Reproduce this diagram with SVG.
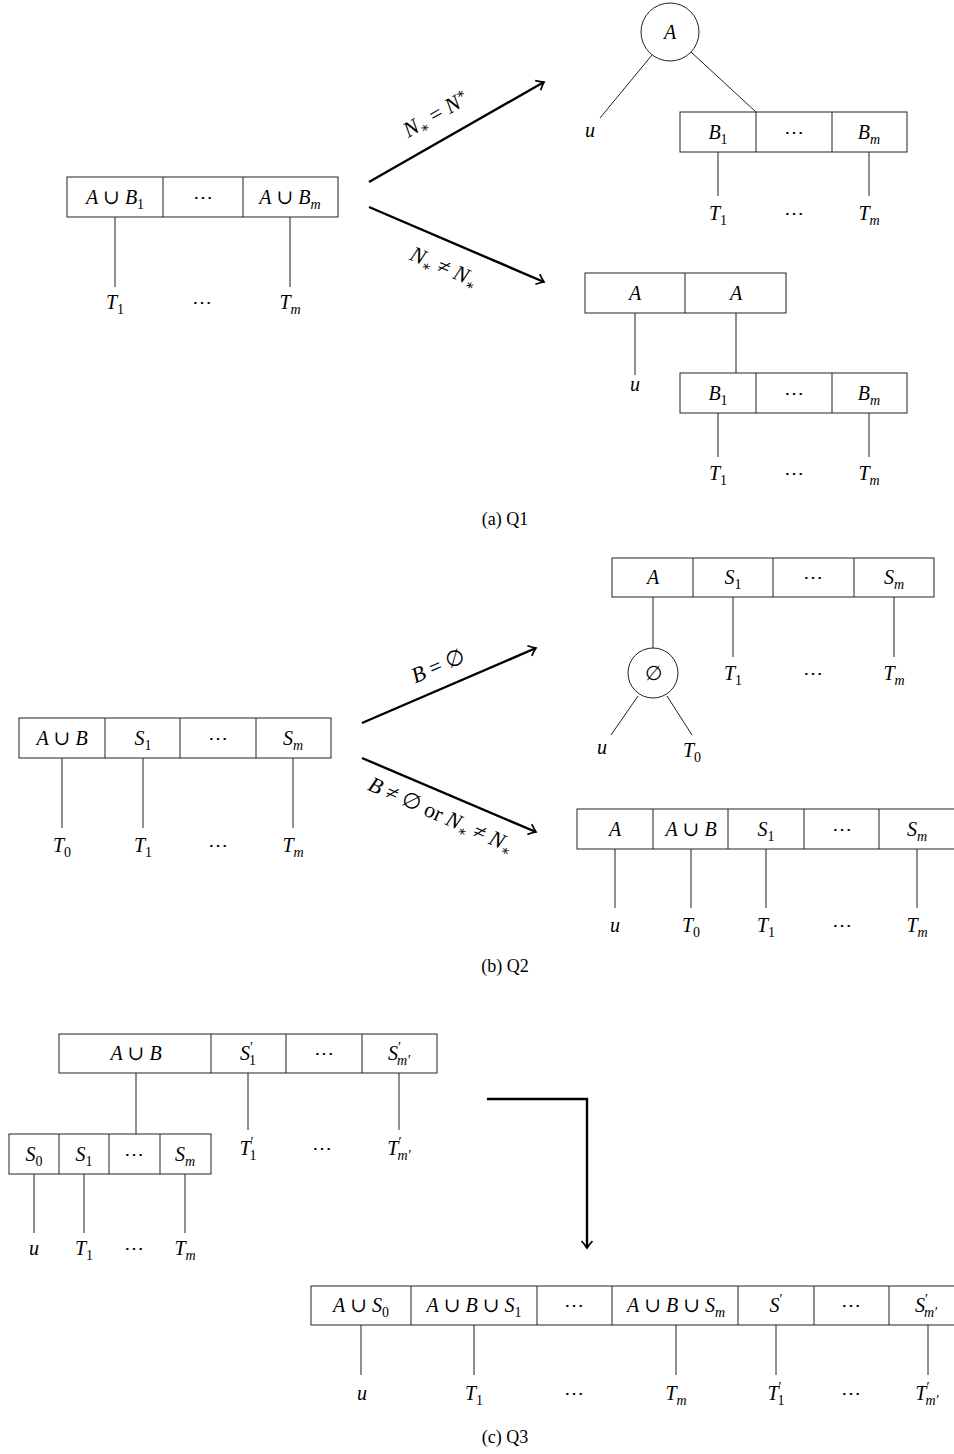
<svg xmlns="http://www.w3.org/2000/svg" width="954" height="1454" viewBox="0 0 954 1454">
<style>
text{font-family:"Liberation Serif","DejaVu Serif",serif;font-size:20px;fill:#000;text-anchor:middle}
.m{font-style:italic}
.r{font-style:normal}
.sb{font-size:14px;baseline-shift:-4.5px}
.sbn{font-size:14px;baseline-shift:-4.5px;font-style:normal}
.sp{font-size:14px;baseline-shift:8px;font-style:normal}
.ss{font-size:14px;baseline-shift:-4px;font-style:normal}
.lbl{font-size:22px}
.box{fill:#fff;stroke:#222;stroke-width:1}
.ln{stroke:#222;stroke-width:1;fill:none}
.arw{stroke:#000;stroke-width:2.4;fill:none;marker-end:url(#ar)}
.cap{font-style:normal;font-size:18px}
</style>
<defs>
<marker id="ar" viewBox="-10 -7 12 14" markerWidth="12" markerHeight="14" refX="0" refY="0" orient="auto" markerUnits="userSpaceOnUse">
<path d="M-7,-5.5 Q-2.5,-1.5 0,0 Q-2.5,1.5 -7,5.5" fill="none" stroke="#000" stroke-width="1.7"/>
</marker>
</defs>

<!-- ===== (a) Q1 ===== -->
<g id="a-left">
<rect class="box" x="67" y="177" width="271" height="40"/>
<line class="ln" x1="163" y1="177" x2="163" y2="217"/>
<line class="ln" x1="243" y1="177" x2="243" y2="217"/>
<text class="m" x="115" y="204">A<tspan class="r"> ∪ </tspan>B<tspan class="sbn">1</tspan></text>
<text x="203" y="204">⋯</text>
<text class="m" x="290" y="204">A<tspan class="r"> ∪ </tspan>B<tspan class="sb">m</tspan></text>
<line class="ln" x1="115" y1="217" x2="115" y2="287"/>
<line class="ln" x1="290" y1="217" x2="290" y2="287"/>
<text class="m" x="115" y="309">T<tspan class="sbn">1</tspan></text>
<text x="202" y="309">⋯</text>
<text class="m" x="290" y="309">T<tspan class="sb">m</tspan></text>
</g>

<g id="a-top">
<circle class="box" cx="670" cy="32" r="29"/>
<text class="m" x="670" y="39">A</text>
<text class="m" x="590" y="137">u</text>
<rect class="box" x="680" y="112" width="227" height="40"/>
<line class="ln" x1="756" y1="112" x2="756" y2="152"/>
<line class="ln" x1="832" y1="112" x2="832" y2="152"/>
<text class="m" x="718" y="139">B<tspan class="sbn">1</tspan></text>
<text x="794" y="139">⋯</text>
<text class="m" x="869" y="139">B<tspan class="sb">m</tspan></text>
<text class="m" x="718" y="220">T<tspan class="sbn">1</tspan></text>
<text x="794" y="220">⋯</text>
<text class="m" x="869" y="220">T<tspan class="sb">m</tspan></text>
</g>

<g id="a-bottom">
<rect class="box" x="585" y="273" width="201" height="40"/>
<line class="ln" x1="685" y1="273" x2="685" y2="313"/>
<text class="m" x="635" y="300">A</text>
<text class="m" x="736" y="300">A</text>
<text class="m" x="635" y="391">u</text>
<rect class="box" x="680" y="373" width="227" height="40"/>
<line class="ln" x1="756" y1="373" x2="756" y2="413"/>
<line class="ln" x1="832" y1="373" x2="832" y2="413"/>
<text class="m" x="718" y="400">B<tspan class="sbn">1</tspan></text>
<text x="794" y="400">⋯</text>
<text class="m" x="869" y="400">B<tspan class="sb">m</tspan></text>
<text class="m" x="718" y="480">T<tspan class="sbn">1</tspan></text>
<text x="794" y="480">⋯</text>
<text class="m" x="869" y="480">T<tspan class="sb">m</tspan></text>
</g>

<text class="cap" x="505" y="525">(a) Q1</text>

<!-- ===== (b) Q2 ===== -->
<g id="b-left">
<rect class="box" x="19" y="718" width="312" height="40"/>
<line class="ln" x1="105" y1="718" x2="105" y2="758"/>
<line class="ln" x1="180" y1="718" x2="180" y2="758"/>
<line class="ln" x1="256" y1="718" x2="256" y2="758"/>
<text class="m" x="62" y="745">A<tspan class="r"> ∪ </tspan>B</text>
<text class="m" x="143" y="745">S<tspan class="sbn">1</tspan></text>
<text x="218" y="745">⋯</text>
<text class="m" x="293" y="745">S<tspan class="sb">m</tspan></text>
<text class="m" x="62" y="852">T<tspan class="sbn">0</tspan></text>
<text class="m" x="143" y="852">T<tspan class="sbn">1</tspan></text>
<text x="218" y="852">⋯</text>
<text class="m" x="293" y="852">T<tspan class="sb">m</tspan></text>
</g>

<g id="b-top">
<rect class="box" x="612" y="558" width="322" height="39"/>
<line class="ln" x1="693" y1="558" x2="693" y2="597"/>
<line class="ln" x1="773" y1="558" x2="773" y2="597"/>
<line class="ln" x1="854" y1="558" x2="854" y2="597"/>
<text class="m" x="653" y="584">A</text>
<text class="m" x="733" y="584">S<tspan class="sbn">1</tspan></text>
<text x="813" y="584">⋯</text>
<text class="m" x="894" y="584">S<tspan class="sb">m</tspan></text>
<circle class="box" cx="653" cy="673" r="25"/>
<text x="653" y="680">∅</text>
<text class="m" x="602" y="754">u</text>
<text class="m" x="692" y="757">T<tspan class="sbn">0</tspan></text>
<text class="m" x="733" y="680">T<tspan class="sbn">1</tspan></text>
<text x="813" y="680">⋯</text>
<text class="m" x="894" y="680">T<tspan class="sb">m</tspan></text>
</g>

<g id="b-bottom">
<rect class="box" x="577" y="809" width="380" height="40"/>
<line class="ln" x1="653" y1="809" x2="653" y2="849"/>
<line class="ln" x1="728" y1="809" x2="728" y2="849"/>
<line class="ln" x1="804" y1="809" x2="804" y2="849"/>
<line class="ln" x1="879" y1="809" x2="879" y2="849"/>
<text class="m" x="615" y="836">A</text>
<text class="m" x="691" y="836">A<tspan class="r"> ∪ </tspan>B</text>
<text class="m" x="766" y="836">S<tspan class="sbn">1</tspan></text>
<text x="842" y="836">⋯</text>
<text class="m" x="917" y="836">S<tspan class="sb">m</tspan></text>
<text class="m" x="615" y="932">u</text>
<text class="m" x="691" y="932">T<tspan class="sbn">0</tspan></text>
<text class="m" x="766" y="932">T<tspan class="sbn">1</tspan></text>
<text x="842" y="932">⋯</text>
<text class="m" x="917" y="932">T<tspan class="sb">m</tspan></text>
</g>

<text class="cap" x="505" y="972">(b) Q2</text>

<!-- ===== (c) Q3 ===== -->
<g id="c-top">
<rect class="box" x="59" y="1034" width="378" height="39"/>
<line class="ln" x1="211" y1="1034" x2="211" y2="1073"/>
<line class="ln" x1="286" y1="1034" x2="286" y2="1073"/>
<line class="ln" x1="362" y1="1034" x2="362" y2="1073"/>
<text class="m" x="136" y="1060">A<tspan class="r"> ∪ </tspan>B</text>
<text class="m" x="248" y="1060">S<tspan class="sp">′</tspan><tspan class="sbn" dx="-4">1</tspan></text>
<text x="324" y="1060">⋯</text>
<text class="m" x="399" y="1060">S<tspan class="sp">′</tspan><tspan class="sb" dx="-4">m′</tspan></text>
<text class="m" x="248" y="1155">T<tspan class="sp">′</tspan><tspan class="sbn" dx="-4">1</tspan></text>
<text x="322" y="1155">⋯</text>
<text class="m" x="399" y="1155">T<tspan class="sp">′</tspan><tspan class="sb" dx="-4">m′</tspan></text>
</g>

<g id="c-left">
<rect class="box" x="9" y="1134" width="202" height="40"/>
<line class="ln" x1="59" y1="1134" x2="59" y2="1174"/>
<line class="ln" x1="109" y1="1134" x2="109" y2="1174"/>
<line class="ln" x1="160" y1="1134" x2="160" y2="1174"/>
<text class="m" x="34" y="1161">S<tspan class="sbn">0</tspan></text>
<text class="m" x="84" y="1161">S<tspan class="sbn">1</tspan></text>
<text x="134" y="1161">⋯</text>
<text class="m" x="185" y="1161">S<tspan class="sb">m</tspan></text>
<text class="m" x="34" y="1255">u</text>
<text class="m" x="84" y="1255">T<tspan class="sbn">1</tspan></text>
<text x="134" y="1255">⋯</text>
<text class="m" x="185" y="1255">T<tspan class="sb">m</tspan></text>
</g>

<g id="c-bottom">
<rect class="box" x="311" y="1286" width="655" height="39"/>
<line class="ln" x1="411" y1="1286" x2="411" y2="1325"/>
<line class="ln" x1="537" y1="1286" x2="537" y2="1325"/>
<line class="ln" x1="612" y1="1286" x2="612" y2="1325"/>
<line class="ln" x1="738" y1="1286" x2="738" y2="1325"/>
<line class="ln" x1="814" y1="1286" x2="814" y2="1325"/>
<line class="ln" x1="889" y1="1286" x2="889" y2="1325"/>
<text class="m" x="361" y="1312">A<tspan class="r"> ∪ </tspan>S<tspan class="sbn">0</tspan></text>
<text class="m" x="474" y="1312">A<tspan class="r"> ∪ </tspan>B<tspan class="r"> ∪ </tspan>S<tspan class="sbn">1</tspan></text>
<text x="574" y="1312">⋯</text>
<text class="m" x="676" y="1312">A<tspan class="r"> ∪ </tspan>B<tspan class="r"> ∪ </tspan>S<tspan class="sb">m</tspan></text>
<text class="m" x="776" y="1312">S<tspan class="sp">′</tspan></text>
<text x="851" y="1312">⋯</text>
<text class="m" x="926" y="1312">S<tspan class="sp">′</tspan><tspan class="sb" dx="-4">m′</tspan></text>
<text class="m" x="362" y="1400">u</text>
<text class="m" x="474" y="1400">T<tspan class="sbn">1</tspan></text>
<text x="574" y="1400">⋯</text>
<text class="m" x="676" y="1400">T<tspan class="sb">m</tspan></text>
<text class="m" x="776" y="1400">T<tspan class="sp">′</tspan><tspan class="sbn" dx="-4">1</tspan></text>
<text x="851" y="1400">⋯</text>
<text class="m" x="927" y="1400">T<tspan class="sp">′</tspan><tspan class="sb" dx="-4">m′</tspan></text>
</g>

<text class="cap" x="505" y="1443">(c) Q3</text>

<!-- ===== connectors ===== -->
<g id="connectors">
<line class="ln" x1="652" y1="55" x2="600" y2="118"/>
<line class="ln" x1="691" y1="52" x2="756" y2="112"/>
<line class="ln" x1="718" y1="152" x2="718" y2="196"/>
<line class="ln" x1="869" y1="152" x2="869" y2="196"/>
<line class="ln" x1="635" y1="313" x2="635" y2="375"/>
<line class="ln" x1="736" y1="313" x2="736" y2="373"/>
<line class="ln" x1="718" y1="413" x2="718" y2="457"/>
<line class="ln" x1="869" y1="413" x2="869" y2="457"/>
<path class="arw" d="M369,182 L544,82"/>
<path class="arw" d="M369,207 L544,282"/>
<text class="m lbl" transform="rotate(-29.7 436 114)" x="436" y="121">N<tspan class="ss">∗</tspan><tspan class="r">  =  </tspan>N<tspan class="sp">∗</tspan></text>
<text class="m lbl" transform="rotate(23.2 444 267)" x="444" y="274">N<tspan class="ss">∗</tspan><tspan class="r">  ≠  </tspan>N<tspan class="ss">∗</tspan></text>

<line class="ln" x1="62" y1="758" x2="62" y2="828"/>
<line class="ln" x1="143" y1="758" x2="143" y2="828"/>
<line class="ln" x1="293" y1="758" x2="293" y2="828"/>
<line class="ln" x1="653" y1="597" x2="653" y2="648"/>
<line class="ln" x1="638" y1="696" x2="611" y2="735"/>
<line class="ln" x1="667" y1="696" x2="692" y2="735"/>
<line class="ln" x1="733" y1="597" x2="733" y2="657"/>
<line class="ln" x1="894" y1="597" x2="894" y2="657"/>
<line class="ln" x1="615" y1="849" x2="615" y2="908"/>
<line class="ln" x1="691" y1="849" x2="691" y2="908"/>
<line class="ln" x1="766" y1="849" x2="766" y2="908"/>
<line class="ln" x1="917" y1="849" x2="917" y2="908"/>
<path class="arw" d="M362,723 L536,648"/>
<path class="arw" d="M362,758 L536,832"/>
<text class="m lbl" transform="rotate(-23.4 438 666)" x="438" y="673">B<tspan class="r">  =  ∅</tspan></text>
<text class="m lbl" transform="rotate(24 441 815)" x="441" y="822">B<tspan class="r">  ≠  ∅ or </tspan>N<tspan class="ss">∗</tspan><tspan class="r">  ≠  </tspan>N<tspan class="ss">∗</tspan></text>

<line class="ln" x1="136" y1="1073" x2="136" y2="1134"/>
<line class="ln" x1="248" y1="1073" x2="248" y2="1130"/>
<line class="ln" x1="399" y1="1073" x2="399" y2="1130"/>
<line class="ln" x1="34" y1="1174" x2="34" y2="1233"/>
<line class="ln" x1="84" y1="1174" x2="84" y2="1233"/>
<line class="ln" x1="185" y1="1174" x2="185" y2="1233"/>
<line class="ln" x1="361" y1="1325" x2="361" y2="1375"/>
<line class="ln" x1="474" y1="1325" x2="474" y2="1375"/>
<line class="ln" x1="676" y1="1325" x2="676" y2="1375"/>
<line class="ln" x1="776" y1="1325" x2="776" y2="1375"/>
<line class="ln" x1="928" y1="1325" x2="928" y2="1375"/>
<path class="arw" d="M487,1099 H587 V1248"/>
</g>
</svg>
